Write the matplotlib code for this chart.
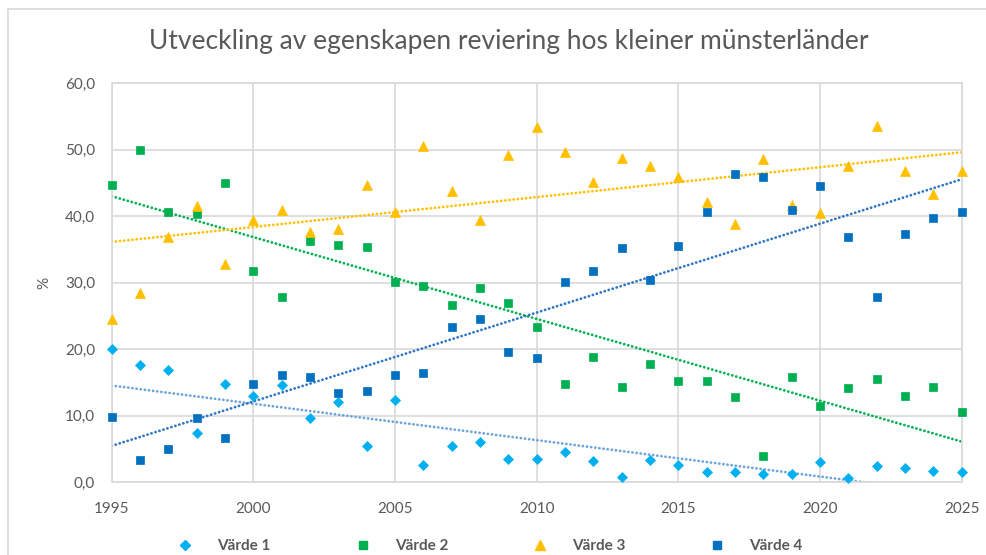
import numpy as np
import matplotlib
matplotlib.use("Agg")
import matplotlib.pyplot as plt
from matplotlib.lines import Line2D
from matplotlib.ticker import FuncFormatter

plt.rcParams['font.family'] = ['Lato', 'DejaVu Sans']

years = list(range(1995, 2026))

varde1 = [20.1, 17.6, 16.9, 7.4, 14.8, 13.0, 14.6, 9.6, 12.1, 5.4,
          12.4, 2.6, 5.5, 6.0, 3.5, 3.5, 4.6, 3.2, 0.8, 3.3,
          2.6, 1.5, 1.5, 1.3, 1.3, 3.1, 0.6, 2.4, 2.1, 1.7, 1.5]
varde2 = [44.7, 50.0, 40.7, 40.4, 45.0, 31.8, 27.8, 36.3, 35.7, 35.4,
          30.1, 29.5, 26.6, 29.2, 27.0, 23.4, 14.8, 18.9, 14.4, 17.8,
          15.3, 15.3, 12.8, 4.0, 15.8, 11.4, 14.2, 15.5, 13.0, 14.4, 10.5]
varde3 = [24.5, 28.4, 36.9, 41.6, 32.9, 39.5, 40.9, 37.7, 38.1, 44.7,
          40.6, 50.5, 43.8, 39.5, 49.2, 53.5, 49.7, 45.2, 48.8, 47.6,
          45.9, 42.1, 38.9, 48.6, 41.7, 40.5, 47.6, 53.6, 46.8, 43.4, 46.8]
varde4 = [9.8, 3.3, 5.0, 9.6, 6.6, 14.8, 16.2, 15.8, 13.5, 13.7,
          16.2, 16.4, 23.4, 24.6, 19.6, 18.7, 30.1, 31.7, 35.2, 30.4,
          35.6, 40.7, 46.4, 45.9, 41.0, 44.5, 36.9, 27.9, 37.3, 39.8, 40.7]

labels = ["Värde 1", "Värde 2", "Värde 3", "Värde 4"]
title = "Utveckling av egenskapen reviering hos kleiner münsterländer"
ylabel = "%"

series = [varde1, varde2, varde3, varde4]
markers = ['D', 's', '^', 's']
msizes = [5.5, 6.3, 7.4, 6.3]
colors = ['#00B0F0', '#00B050', '#FFC000', '#0070C0']
trend_colors = ['#6FA3DC', '#00B050', '#FFC000', '#2E75C6']

fig = plt.figure(figsize=(9.87, 5.55), dpi=100)
ax = fig.add_axes([111.7/987, 1 - 482.3/555, 850/987, (482.3-83.3)/555])

x = np.array(years, dtype=float)
handles = []
for vals, tc in zip(series, trend_colors):
    y = np.array(vals)
    coef = np.polyfit(x, y, 1)
    xt = np.array([years[0], years[-1]], dtype=float)
    ax.plot(xt, np.polyval(coef, xt), linestyle=(0, (0.05, 1.45)), lw=2.0,
            color=tc, dash_capstyle='round', zorder=2)
for vals, m, ms, c, lab in zip(series, markers, msizes, colors, labels):
    ax.plot(x, vals, linestyle='none', marker=m, markersize=ms, color=c,
            markeredgecolor=c, markeredgewidth=0.5, zorder=3, clip_on=False)
    handles.append(Line2D([], [], linestyle='none', marker=m, markersize=ms,
                          color=c, markeredgecolor=c, label=lab))

ax.set_xlim(1995, 2025)
ax.set_ylim(0, 60)
ax.set_xticks(range(1995, 2026, 5))
ax.set_yticks(range(0, 61, 10))
ax.yaxis.set_major_formatter(FuncFormatter(lambda v, p: f"{v:.1f}".replace('.', ',')))
ax.grid(True, color='#D9D9D9', lw=1.2)
ax.set_axisbelow(True)
for s in ax.spines.values():
    s.set_color('#D9D9D9')
    s.set_linewidth(1.2)
ax.tick_params(length=0, labelsize=11, labelcolor='#595959')
ax.tick_params(axis='y', pad=12)
ax.tick_params(axis='x', pad=14)
ax.set_ylabel(ylabel, fontsize=11, color='#595959', labelpad=10)

fig.text(509/987, 1 - 42/555, title, ha='center', va='center',
         fontsize=19, color='#595959')

leg = fig.legend(handles=handles, loc='center', ncol=4,
                 bbox_to_anchor=(490/987, 1 - 546/555), frameon=False,
                 handlelength=1.0, handletextpad=1.6, columnspacing=5.5,
                 prop={'size': 11, 'weight': 'bold'})
for t in leg.get_texts():
    t.set_color('#595959')

# outer chart border
fig.add_artist(Line2D([8/987, 8/987], [0, 1 - 9/555], transform=fig.transFigure,
                      color='#D9D9D9', lw=1.2))
fig.add_artist(Line2D([8/987, 1], [1 - 9/555, 1 - 9/555], transform=fig.transFigure,
                      color='#D9D9D9', lw=1.2))

fig.savefig('out.png', dpi=100)
